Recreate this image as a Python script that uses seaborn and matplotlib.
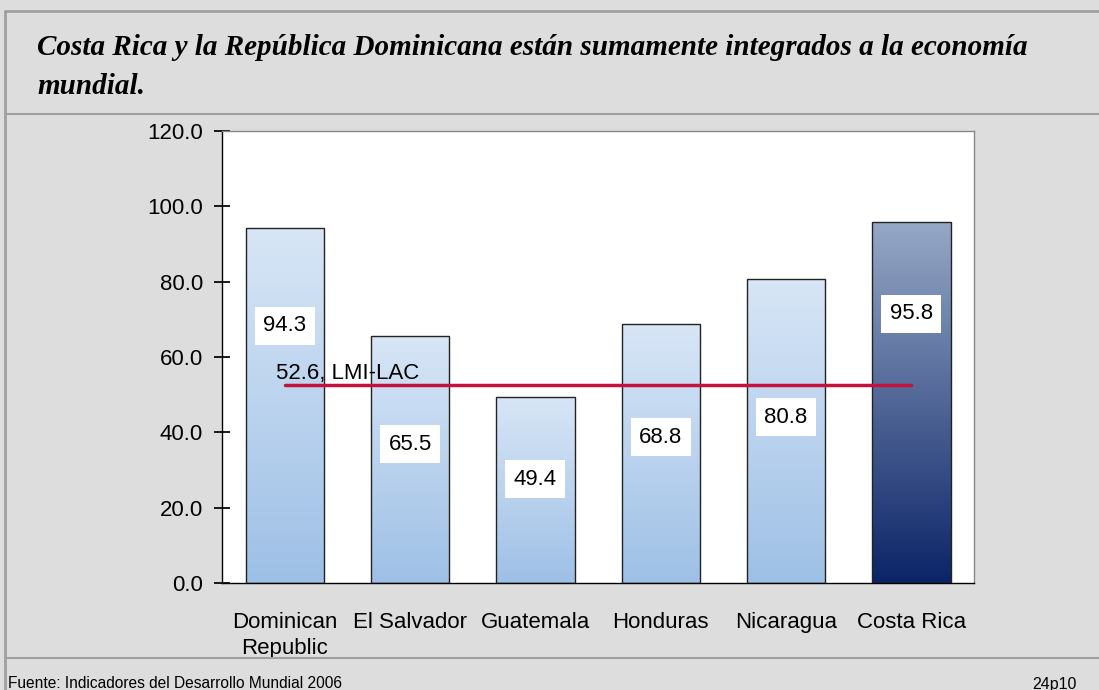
import numpy as np
import pandas as pd
import matplotlib.pyplot as plt
import seaborn as sns
from matplotlib.lines import Line2D
from matplotlib.colors import LinearSegmentedColormap

countries = ["Dominican\nRepublic", "El Salvador", "Guatemala", "Honduras", "Nicaragua", "Costa Rica"]
values = [94.3, 65.5, 49.4, 68.8, 80.8, 95.8]
label_heights = [68.3, 36.8, 27.5, 38.7, 44.0, 71.5]  # where each value box sits
lmi_lac = 52.6
title = "Costa Rica y la República Dominicana están sumamente integrados a la economía\nmundial."
source = "Fuente: Indicadores del Desarrollo Mundial 2006"
slide_id = "24p10"

df = pd.DataFrame({"Country": countries, "Value": values})

sns.set_theme(style="white")
plt.rcParams['font.family'] = ['Liberation Sans', 'DejaVu Sans']
plt.rcParams['text.color'] = 'black'
plt.rcParams['xtick.color'] = 'black'
plt.rcParams['ytick.color'] = 'black'

fig = plt.figure(figsize=(10.99, 6.90), dpi=100)
fig.patch.set_facecolor("#dddddd")
W, H = 1099, 690

# frame lines of the slide
grey = "#a0a0a0"
fig.add_artist(Line2D([5 / W, 1], [1 - 11 / H] * 2, color=grey, lw=2))
fig.add_artist(Line2D([5 / W] * 2, [0, 1 - 11 / H], color=grey, lw=2))
fig.add_artist(Line2D([5 / W, 1], [1 - 114 / H] * 2, color=grey, lw=1.5))
fig.add_artist(Line2D([5 / W, 1], [1 - 658 / H] * 2, color=grey, lw=1.5))

fig.text(37 / W, 1 - 34 / H, title, ha="left", va="top", fontsize=21,
         family="Liberation Serif", weight="bold", style="italic", linespacing=1.55)
fig.text(8 / W, 1 - 684 / H, source, ha="left", va="center", fontsize=11.2)
fig.text(1077 / W, 1 - 684 / H, slide_id, ha="right", va="center", fontsize=11.5)

ax = fig.add_axes([222 / W, 1 - 583 / H, (974 - 222) / W, (583 - 131) / H])
ax.set_facecolor("white")

sns.barplot(data=df, x="Country", y="Value", ax=ax, width=0.625,
            color="white", edgecolor="#222222", linewidth=1, zorder=2)

light = LinearSegmentedColormap.from_list("light", ["#9ec0e6", "#d8e6f6"])
dark = LinearSegmentedColormap.from_list("dark", ["#0b2467", "#96a8c6"])
grad = np.linspace(0, 1, 256).reshape(-1, 1)
for i, bar in enumerate(ax.patches):
    x0, w, h = bar.get_x(), bar.get_width(), bar.get_height()
    cmap = dark if i == len(values) - 1 else light
    im = ax.imshow(grad, cmap=cmap, origin="lower", aspect="auto",
                   extent=[x0, x0 + w, 0, h], zorder=2.5)
    im.set_clip_path(bar)
    bar.set_facecolor("none")
    bar.set_zorder(3)

for i, (v, ly) in enumerate(zip(values, label_heights)):
    ax.text(i, ly, f"{v:.1f}", ha="center", va="center", fontsize=16, zorder=5,
            bbox=dict(facecolor="white", edgecolor="none", pad=6))

ax.plot([0, len(values) - 1], [lmi_lac, lmi_lac], color="#c4123f", lw=2.5, zorder=4)
ax.text(-0.07, lmi_lac + 0.1, f"{lmi_lac}, LMI-LAC", ha="left", va="bottom",
        fontsize=16, zorder=4)

ax.set_xlim(-0.5, len(values) - 0.5)
ax.set_ylim(0, 120)
ax.set_yticks(np.arange(0, 121, 20))
ax.set_yticklabels([f"{t:.1f}" for t in np.arange(0, 121, 20)], fontsize=16)
ax.set_xticks(range(len(values)))
ax.set_xticklabels(countries, fontsize=16, linespacing=1.3)
ax.set_xticks(np.arange(-0.5, len(values), 1), minor=True)
ax.tick_params(axis="x", which="major", length=0, pad=21)
ax.tick_params(axis="x", which="minor", length=11, direction="inout", color="black")
ax.tick_params(axis="y", length=11, direction="inout", color="black", pad=8, left=True)
ax.set_xlabel("")
ax.set_ylabel("")
for s in ["left", "bottom"]:
    ax.spines[s].set_color("black")
    ax.spines[s].set_linewidth(1)
for s in ["top", "right"]:
    ax.spines[s].set_color("#888888")
    ax.spines[s].set_linewidth(1)

fig.savefig("out.png", dpi=100, facecolor=fig.get_facecolor())
